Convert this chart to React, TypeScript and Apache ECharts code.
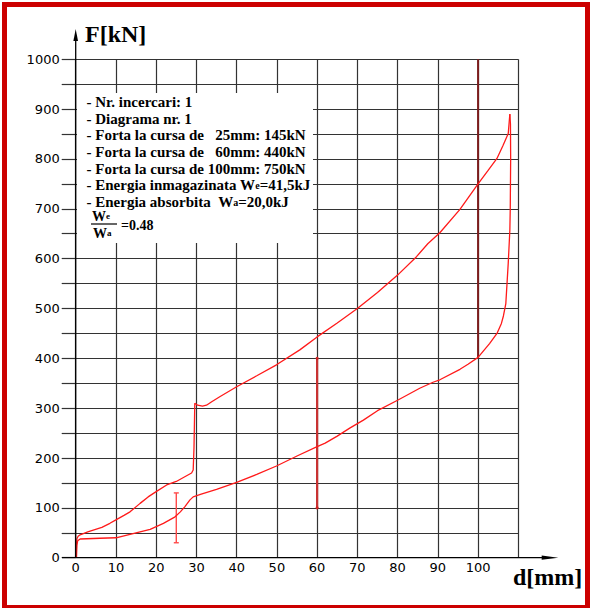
import React, { useEffect, useRef } from 'react';
import * as echarts from 'echarts';

// Loading curve (upper branch): stroke d [mm] and force F [kN]
const loadD = [0.1, 0.2, 0.3, 0.6, 1.1, 3, 6.5, 8.5, 10, 12, 13.5, 16, 18, 19.9, 22.6, 25, 27, 28.8, 29.2, 29.4, 29.6, 30.3, 31.5, 32.5, 33.8, 35.8, 40, 45, 49.9, 55.7, 60, 65, 70, 75, 80, 84.7, 87.5, 90.5, 95.5, 100, 102.5, 104.7, 106.2, 107.5, 107.9];
const loadF = [0, 25, 38, 43, 46, 52, 61, 69, 76, 85, 92, 109, 122, 132, 146, 153, 162, 170, 176, 220, 310, 306, 304, 306, 313, 323, 343, 365, 387, 417, 443, 471, 500, 532, 567, 604, 630, 652, 699, 750, 777, 801, 827, 851, 890];

// Unloading curve (lower branch)
const unloadD = [107.9, 108.05, 108.1, 108.0, 107.9, 107.5, 106.9, 106.3, 105.8, 104.7, 102.9, 100, 97.5, 95.5, 90.5, 88.8, 85.5, 80, 75, 71.5, 68.1, 65, 62, 60, 55, 49.9, 45, 40, 35, 31, 29.2, 28.4, 27.1, 26, 24.7, 21.8, 18.5, 16, 13.5, 10, 6, 1.1, 0.5, 0.3, 0.2];
const unloadF = [890, 870, 800, 700, 657, 591, 510, 485, 470, 450, 430, 402, 388, 378, 357, 352, 340, 316, 295, 276, 260, 244, 230, 223, 204, 184, 167, 151, 137, 127, 122, 116, 102, 92, 82, 69, 57, 52, 47, 40, 39, 37.5, 34, 25, 0];

// Markers
const errorBar = [[25, 30, 130]]; // d, Fmin, Fmax
const marker60D = [60, 60];
const marker60F = [100, 400];
const marker100D = [100, 100];
const marker100F = [400, 1000];

// Axes
const xMin = 0, xMax = 110, xStep = 10;
const yMin = 0, yMax = 1000, yStep = 50, yLabelStep = 100;
const yTitle = 'F[kN]';
const xTitle = 'd[mm]';

// Info box text
const infoLines = [
  '{n|- Nr. incercari: 1}',
  '{n|- Diagrama nr. 1}',
  '{n|- Forta la cursa de\u00a0\u00a0\u00a025mm: 145kN}',
  '{n|- Forta la cursa de\u00a0\u00a0\u00a060mm: 440kN}',
  '{n|- Forta la cursa de 100mm: 750kN}',
  '{n|- Energia inmagazinata W}{s|e}{n|=41,5kJ}',
  '{n|- Energia absorbita\u00a0\u00a0W}{s|a}{n|=20,0kJ}',
];
const fracNum = '{n|W}{s|e}';
const fracDen = '{n|W}{s|a}';
const fracVal = '=0.48';

const SERIF = '"Liberation Serif", "Times New Roman", serif';
const SANS = '"DejaVu Sans", sans-serif';

export default function App() {
  const ref = useRef<HTMLDivElement>(null);
  useEffect(() => {
    if (!ref.current) return;
    const chart = echarts.init(ref.current, undefined, { renderer: 'svg' });
    const richStyles = {
      n: { fontFamily: SERIF, fontSize: 15, fontWeight: 'bold', fill: '#000', lineHeight: 17, verticalAlign: 'middle' },
      s: { fontFamily: SERIF, fontSize: 10, fontWeight: 'bold', fill: '#000', lineHeight: 10, verticalAlign: 'middle' },
    };
    const fracRich = {
      n: { fontFamily: SERIF, fontSize: 14, fontWeight: 'bold', fill: '#000', lineHeight: 16, verticalAlign: 'middle' },
      s: { fontFamily: SERIF, fontSize: 9, fontWeight: 'bold', fill: '#000', lineHeight: 9, verticalAlign: 'middle' },
    };
    const infoTexts = infoLines.map((t, i) => ({
      type: 'text',
      left: 86.5,
      top: 94.5 + i * 16.67,
      z: 11,
      style: { text: t, rich: richStyles, fill: '#000' },
    }));
    const gridColor = '#333';
    chart.setOption({
      animation: false,
      backgroundColor: '#fff',
      grid: { left: 75.7, top: 59.3, right: 71.7, bottom: 50.3, containLabel: false },
      xAxis: {
        type: 'value', min: xMin, max: xMax, interval: xStep,
        axisLine: { show: false },
        axisTick: { show: false },
        splitLine: { show: true, lineStyle: { color: gridColor, width: 1.2 } },
        axisLabel: {
          margin: 3, color: '#000', fontFamily: SANS, fontSize: 13,
          formatter: (v: number) => (v === xMax ? '' : String(v)),
        },
      },
      yAxis: {
        type: 'value', min: yMin, max: yMax, interval: yStep,
        axisLine: { show: false },
        axisTick: { show: true, length: 14, lineStyle: { color: gridColor, width: 1.2 } },
        splitLine: { show: true, lineStyle: { color: gridColor, width: 1.2 } },
        axisLabel: {
          margin: 16, color: '#000', fontFamily: SANS, fontSize: 13,
          formatter: (v: number) => (v % yLabelStep === 0 ? String(v) : ''),
        },
      },
      series: [
        {
          type: 'line', data: loadD.map((d, i) => [d, loadF[i]]),
          showSymbol: false, lineStyle: { color: '#ff1a1a', width: 1.3 }, z: 5,
        },
        {
          type: 'line', data: unloadD.map((d, i) => [d, unloadF[i]]),
          showSymbol: false, lineStyle: { color: '#ff1a1a', width: 1.3 }, z: 5,
        },
        {
          type: 'line', data: marker60D.map((d, i) => [d, marker60F[i]]),
          symbol: 'circle', symbolSize: 3, itemStyle: { color: '#d02020' },
          lineStyle: { color: '#c83232', width: 2.2 }, z: 4,
        },
        {
          type: 'line', data: marker100D.map((d, i) => [d, marker100F[i]]),
          showSymbol: false,
          lineStyle: { color: '#7b1c1c', width: 2 }, z: 4,
        },
        {
          type: 'custom', data: errorBar, z: 5,
          renderItem: (params: any, api: any) => {
            const top = api.coord([api.value(0), api.value(2)]);
            const bot = api.coord([api.value(0), api.value(1)]);
            const st = { stroke: '#ff4a4a', lineWidth: 1.4 };
            return {
              type: 'group',
              children: [
                { type: 'line', shape: { x1: top[0], y1: top[1], x2: bot[0], y2: bot[1] }, style: st },
                { type: 'line', shape: { x1: top[0] - 2.5, y1: top[1], x2: top[0] + 2.5, y2: top[1] }, style: st },
                { type: 'line', shape: { x1: bot[0] - 2.5, y1: bot[1], x2: bot[0] + 2.5, y2: bot[1] }, style: st },
              ],
            };
          },
        },
      ],
      graphic: [
        // red frame
        { type: 'rect', shape: { x: 4.5, y: 4.5, width: 583, height: 603 }, style: { fill: 'none', stroke: '#cc0000', lineWidth: 5 }, z: 30 },
        // info box background
        { type: 'rect', shape: { x: 77, y: 93, width: 236, height: 150 }, style: { fill: '#fff' }, z: 10 },
        ...infoTexts,
        { type: 'text', left: 92, top: 209, z: 11, style: { text: fracNum, rich: fracRich } },
        { type: 'line', shape: { x1: 91, y1: 224, x2: 117, y2: 224 }, style: { stroke: '#000', lineWidth: 1.2 }, z: 11 },
        { type: 'text', left: 93, top: 226, z: 11, style: { text: fracDen, rich: fracRich } },
        { type: 'text', left: 121, top: 218, z: 11, style: { text: fracVal, fontFamily: SERIF, fontSize: 14, fontWeight: 'bold', fill: '#000' } },
        // axes with arrows
        { type: 'line', shape: { x1: 75.7, y1: 557.7, x2: 75.7, y2: 40 }, style: { stroke: '#000', lineWidth: 1.3 }, z: 20 },
        { type: 'polygon', shape: { points: [[75.7, 29], [73.4, 41], [78, 41]] }, style: { fill: '#000' }, z: 20 },
        { type: 'line', shape: { x1: 62, y1: 557.7, x2: 545, y2: 557.7 }, style: { stroke: '#000', lineWidth: 1.3 }, z: 20 },
        { type: 'polygon', shape: { points: [[558.3, 557.7], [541.7, 555.6], [541.7, 559.8]] }, style: { fill: '#000' }, z: 20 },
        // axis titles
        { type: 'text', left: 85, top: 22, z: 20, style: { text: yTitle, fontFamily: SERIF, fontSize: 24, fontWeight: 'bold', fill: '#000' } },
        { type: 'text', left: 513, top: 565, z: 20, style: { text: xTitle, fontFamily: SERIF, fontSize: 24, fontWeight: 'bold', fill: '#000' } },
      ],
    });
    return () => chart.dispose();
  }, []);
  return <div ref={ref} style={{ position: 'fixed', left: 0, top: 0, width: 590, height: 608 }} />;
}
